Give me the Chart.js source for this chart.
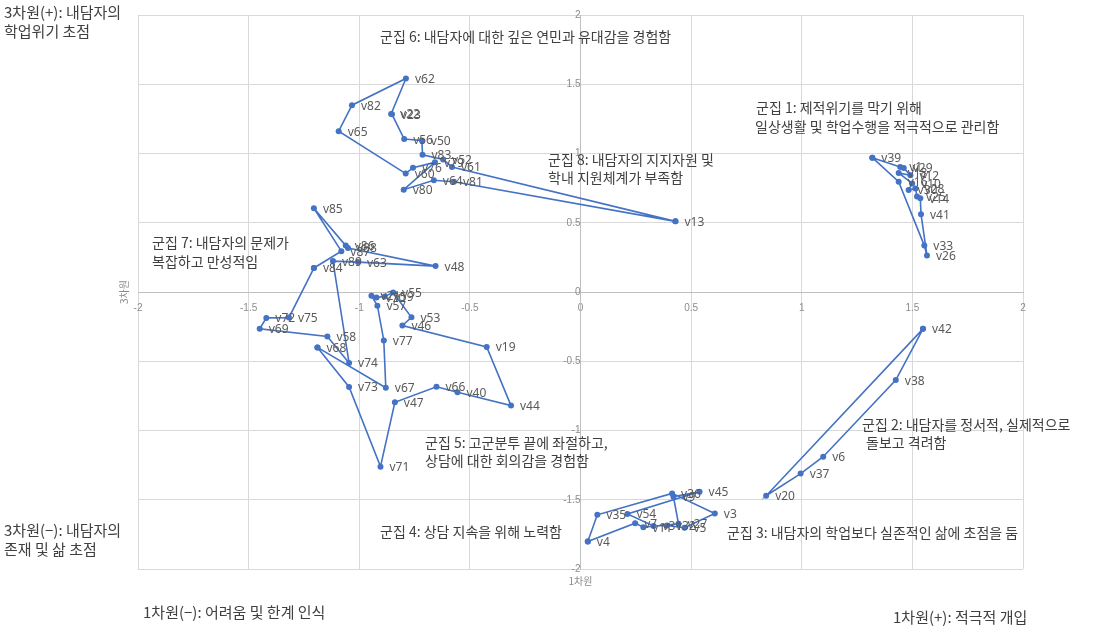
<!DOCTYPE html>
<html><head><meta charset="utf-8">
<script src="https://cdn.jsdelivr.net/npm/chart.js@4.4.1/dist/chart.umd.min.js"></script>
<style>html,body{margin:0;padding:0;background:#fff}#wrap{width:1094px;height:631px}</style>
</head><body><div id="wrap"><canvas id="c" width="1094" height="631"></canvas></div>
<script>
// ---- data ----
const axisMin = -2, axisMax = 2, axisStep = 0.5;

const c1Names = ['v39','v1','v29','v12','v18','v10','v30','v28','v25','v14','v41','v26','v33','v16'];
const c1X = [1.319,1.445,1.461,1.491,1.438,1.499,1.483,1.514,1.521,1.536,1.539,1.566,1.554,1.438];
const c1Y = [0.970,0.903,0.896,0.843,0.860,0.784,0.736,0.748,0.689,0.676,0.562,0.263,0.335,0.796];

const c2Names = ['v42','v38','v6','v37','v20'];
const c2X = [1.548,1.425,1.097,0.995,0.839];
const c2Y = [-0.266,-0.636,-1.189,-1.311,-1.471];

const c34Names = ['v4','v35','v36','v3','v5','v32','v31','v54','v45','v9','v27','v11','v7'];
const c34X = [0.033,0.076,0.414,0.607,0.470,0.390,0.330,0.212,0.538,0.420,0.443,0.284,0.247];
const c34Y = [-1.802,-1.609,-1.454,-1.600,-1.702,-1.686,-1.690,-1.602,-1.442,-1.478,-1.674,-1.698,-1.669];

const c5Names = ['v68','v73','v71','v47','v66','v40','v44','v19','v46','v53','v55','v59','v70','v21','v57','v77','v67'];
const c5X = [-1.189,-1.046,-0.904,-0.839,-0.651,-0.556,-0.314,-0.424,-0.805,-0.764,-0.847,-0.885,-0.922,-0.945,-0.918,-0.889,-0.880];
const c5Y = [-0.400,-0.686,-1.261,-0.796,-0.684,-0.724,-0.820,-0.397,-0.242,-0.183,-0.004,-0.032,-0.039,-0.027,-0.099,-0.350,-0.691];

const c6Names = ['v13','v61','v52','v83','v50','v56','v23','v22','v62','v82','v65','v60','v76','v79','v80','v64','v81'];
const c6X = [0.429,-0.581,-0.621,-0.714,-0.717,-0.797,-0.852,-0.856,-0.789,-1.033,-1.093,-0.790,-0.757,-0.658,-0.799,-0.663,-0.572];
const c6Y = [0.510,0.903,0.956,0.991,1.094,1.104,1.283,1.285,1.542,1.349,1.161,0.855,0.898,0.936,0.739,0.807,0.796];

const c7Names = ['v84','v87','v85','v86','v88','v48','v63','v89','v74','v58','v69','v72','v75'];
const c7X = [-1.205,-1.081,-1.205,-1.061,-1.051,-0.655,-1.006,-1.119,-1.046,-1.144,-1.450,-1.420,-1.318];
const c7Y = [0.173,0.295,0.605,0.335,0.318,0.187,0.216,0.223,-0.512,-0.321,-0.266,-0.187,-0.185];

const clusterTexts = [
  ['군집 6: 내담자에 대한 깊은 연민과 유대감을 경험함', 380, 37],
  ['군집 1: 제적위기를 막기 위해', 756, 108],
  ['일상생활 및 학업수행을 적극적으로 관리함', 755, 127],
  ['군집 8: 내담자의 지지자원 및', 548, 160],
  ['학내 지원체계가 부족함', 548, 178],
  ['군집 7: 내담자의 문제가', 152, 243],
  ['복잡하고 만성적임', 152, 262],
  ['군집 2: 내담자를 정서적, 실제적으로', 862, 425],
  ['돌보고 격려함', 866, 443],
  ['군집 5: 고군분투 끝에 좌절하고,', 425, 443],
  ['상담에 대한 회의감을 경험함', 425, 461],
  ['군집 4: 상담 지속을 위해 노력함', 380, 532],
  ['군집 3: 내담자의 학업보다 실존적인 삶에 초점을 둠', 727, 533]
];
const cornerTexts = [
  ['3차원(+): 내담자의', 4, 12],
  ['학업위기 초점', 4, 31],
  ['3차원(−): 내담자의', 4, 530],
  ['존재 및 삶 초점', 4, 549],
  ['1차원(−): 어려움 및 한계 인식', 143, 612],
  ['1차원(+): 적극적 개입', 893, 617]
];
const xTitle = '1차원', yTitle = '3차원';

// ---- build ----
const BLUE = '#4472c4';
function mk(names, xs, ys) {
  const pts = names.map((n, i) => ({x: xs[i], y: ys[i], name: n}));
  pts.push({x: xs[0], y: ys[0], name: ''}); // close the loop
  return {
    data: pts, showLine: true, borderColor: BLUE, backgroundColor: BLUE,
    borderWidth: 1.6, pointRadius: 3, pointHoverRadius: 3, pointBorderWidth: 0, tension: 0
  };
}
const datasets = [
  mk(c1Names, c1X, c1Y), mk(c2Names, c2X, c2Y), mk(c34Names, c34X, c34Y),
  mk(c5Names, c5X, c5Y), mk(c6Names, c6X, c6Y), mk(c7Names, c7X, c7Y)
];

const KFONT = '"Noto Sans CJK KR", "Noto Sans", sans-serif';
const labelPlugin = {
  id: 'labels',
  afterDatasetsDraw(chart) {
    const ctx = chart.ctx;
    ctx.save();
    ctx.font = '12px "Noto Sans", "DejaVu Sans", sans-serif';
    ctx.fillStyle = '#595959';
    ctx.textBaseline = 'middle';
    ctx.textAlign = 'left';
    chart.data.datasets.forEach((ds, di) => {
      const meta = chart.getDatasetMeta(di);
      meta.data.forEach((el, i) => {
        const n = ds.data[i].name;
        if (n) ctx.fillText(n, el.x + 9, el.y + 1);
      });
    });
    ctx.restore();
  },
  afterDraw(chart) {
    const ctx = chart.ctx;
    ctx.save();
    ctx.textBaseline = 'middle';
    ctx.textAlign = 'left';
    ctx.fillStyle = '#404040';
    ctx.font = '14px ' + KFONT;
    clusterTexts.forEach(t => ctx.fillText(t[0], t[1], t[2]));
    ctx.font = '15px ' + KFONT;
    cornerTexts.forEach(t => ctx.fillText(t[0], t[1], t[2]));
    // axis titles
    const xs = chart.scales.x, ys = chart.scales.y;
    ctx.fillStyle = '#8c8c8c';
    ctx.font = '10px ' + KFONT;
    ctx.textAlign = 'center';
    ctx.fillText(xTitle, (xs.left + xs.right) / 2, ys.bottom + 12);
    ctx.translate(xs.left - 14, ys.getPixelForValue(0));
    ctx.rotate(-Math.PI / 2);
    ctx.fillText(yTitle, 0, 0);
    ctx.restore();
  }
};

const fmt = v => String(Math.round(v * 10) / 10);

new Chart(document.getElementById('c'), {
  type: 'scatter',
  data: {datasets},
  options: {
    responsive: false, animation: false,
    layout: {padding: {left: 138, right: 71, top: 10, bottom: 62}},
    plugins: {legend: {display: false}, tooltip: {enabled: false}},
    scales: {
      x: {
        type: 'linear', position: {y: 0}, min: axisMin, max: axisMax,
        ticks: {stepSize: axisStep, color: '#8c8c8c', font: {size: 10}, padding: 10, callback: fmt},
        grid: {color: '#d9d9d9', drawTicks: false},
        border: {color: '#bfbfbf'}
      },
      y: {
        type: 'linear', position: {x: 0}, min: axisMin, max: axisMax,
        ticks: {stepSize: axisStep, color: '#8c8c8c', font: {size: 10}, padding: 9, callback: fmt},
        grid: {color: '#d9d9d9', drawTicks: false},
        border: {color: '#bfbfbf'}
      }
    }
  },
  plugins: [labelPlugin]
});
</script></body></html>
